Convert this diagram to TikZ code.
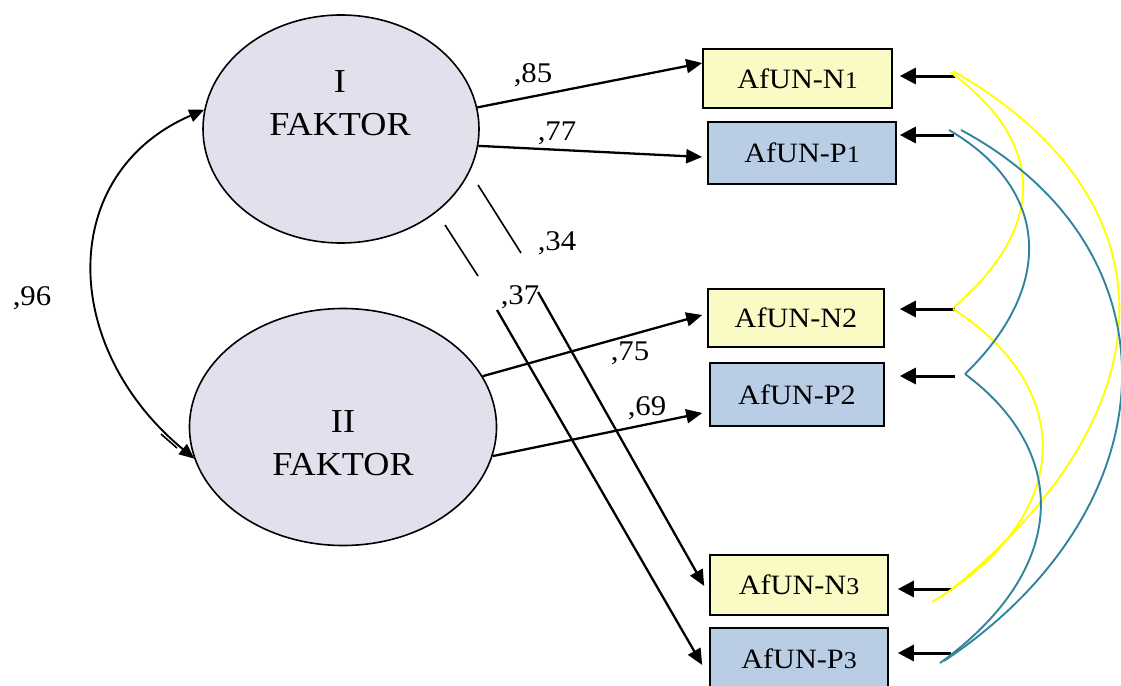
\documentclass[tikz,border=0pt]{standalone}
\usepackage{fontspec}
\setmainfont{Liberation Serif}[FakeStretch=1.08]
\usetikzlibrary{shapes.geometric,arrows.meta,calc}
\definecolor{ellfill}{HTML}{E4DFEC}
\definecolor{nfill}{HTML}{F9FAC4}
\definecolor{pfill}{HTML}{B9CDE5}
\definecolor{ycurve}{HTML}{FFFF00}
\definecolor{bcurve}{HTML}{31849B}
\newcommand{\boxfont}{\fontsize{28}{32}\selectfont}
\newcommand{\labfont}{\fontsize{28.5}{32}\selectfont}
\newcommand{\facfont}{\fontsize{33.5}{43}\selectfont}
\newcommand{\smd}[1]{{\fontsize{24}{27}\selectfont #1}}
\begin{document}
\begin{tikzpicture}[x=1pt,y=-1pt,
  ell/.style={ellipse,draw,line width=1.6pt,fill=ellfill,inner sep=0pt},
  nbox/.style={draw,line width=1.6pt,fill=nfill,inner sep=0pt,font=\boxfont},
  pbox/.style={draw,line width=1.6pt,fill=pfill,inner sep=0pt,font=\boxfont},
  facttext/.style={font=\facfont,align=center,inner sep=0pt},
  lab/.style={font=\labfont,inner sep=0pt},
  load/.style={line width=2.3pt,-{Triangle[length=16pt,width=14pt]}},
  thinseg/.style={line width=1.6pt},
  err/.style={line width=3pt,-{Triangle[length=16pt,width=16pt]}},
  cov/.style={line width=1.9pt,{Triangle[length=15pt,width=13pt]}-{Triangle[length=15pt,width=13pt]}},
  ycur/.style={draw=ycurve,line width=1.9pt},
  bcur/.style={draw=bcurve,line width=1.9pt}
]
\useasboundingbox (0,0) rectangle (1121,685);

% latent factors
\node[ell,minimum width=276pt,minimum height=228pt] (I) at (341,129) {};
\node[ell,minimum width=307pt,minimum height=237pt] (II) at (343,427) {};
\node[facttext] (Itext) at (340,103) {I\\FAKTOR};
\node[facttext] (IItext) at (343,443) {II\\FAKTOR};

% indicator boxes
\node[nbox,minimum width=189pt,minimum height=59pt] (N1) at (797.5,78.5) {AfUN-N\smd{1}};
\node[pbox,minimum width=188pt,minimum height=62pt] (P1) at (802,153) {AfUN-P\smd{1}};
\node[nbox,minimum width=176pt,minimum height=58pt] (N2) at (796,318) {AfUN-N2};
\node[pbox,minimum width=174pt,minimum height=63pt] (P2) at (797,394.5) {AfUN-P2};
\node[nbox,minimum width=178pt,minimum height=60pt] (N3) at (799,585) {AfUN-N\smd{3}};
\node[pbox,minimum width=178pt,minimum height=62pt] (P3) at (799,659) {AfUN-P\smd{3}};

% loadings
\draw[load] (I.9) -- ([yshift=15.5pt]N1.west);
\draw[load] (I.-7) -- ([xshift=-5pt,yshift=-4pt]P1.west);
\draw[load] (II.20) -- ([xshift=-5pt,yshift=3pt]N2.west);
\draw[load] (II.-11.5) -- ([xshift=-7pt,yshift=-18.5pt]P2.west);

% cross loadings with gaps
\coordinate (a34) at (478,185);
\coordinate (b34) at (521,253);
\coordinate (c34) at (538,292);
\coordinate (a37) at (445,225);
\coordinate (b37) at (478,276);
\coordinate (c37) at (497,310);
\draw[thinseg] (a34) -- (b34);
\draw[load] (c34) -- ([xshift=-5pt,yshift=-1pt]N3.west);
\draw[thinseg] (a37) -- (b37);
\draw[load] (c37) -- ([xshift=-7pt,yshift=-6pt]P3.west);

% labels
\node[lab] (l85) at (533,75) {,85};
\node[lab] (l77) at (557,133) {,77};
\node[lab] (l34) at (557,243) {,34};
\node[lab] (l37) at (520,297) {,37};
\node[lab] (l75) at (630,353) {,75};
\node[lab] (l69) at (647,408) {,69};
\node[lab] (l96) at (32,298) {,96};

% covariance
\draw[cov] (I.172) .. controls +(-146,63) and +(-136,-113) .. (II.192);
\coordinate (d1) at (161,434);
\coordinate (d2) at (177,448);
\draw[line width=1.6pt] (d1) -- (d2);

% error arrows
\coordinate (eN1) at (955,76);
\coordinate (eP1) at (954,135);
\coordinate (eN2) at (955,309);
\coordinate (eP2) at (955,376);
\coordinate (eN3) at (952,589);
\coordinate (eP3) at (951,653);
\draw[err,shorten >=7pt] (eN1) -- (eN1 -| N1.east);
\draw[err,shorten >=3pt] (eP1) -- (eP1 -| P1.east);
\draw[err,shorten >=15pt] (eN2) -- (eN2 -| N2.east);
\draw[err,shorten >=15pt] (eP2) -- (eP2 -| P2.east);
\draw[err,shorten >=9pt] (eN3) -- (eN3 -| N3.east);
\draw[err,shorten >=9pt] (eP3) -- (eP3 -| P3.east);

% error correlations (yellow)
\draw[ycur] ([xshift=-5pt,yshift=4pt]eN1) .. controls +(97,71) and +(94,-81) .. ([xshift=-2pt,yshift=1pt]eN2);
\draw[ycur] ([xshift=-2pt,yshift=5pt]eN1) .. controls +(222,127) and +(223,-181) .. (eN3);
\draw[ycur] ([xshift=-2pt]eN2) .. controls +(123,79) and +(144,-86) .. ([xshift=-20pt,yshift=-13pt]eN3);
% error correlations (blue)
\draw[bcur] ([xshift=-5pt,yshift=5pt]eP1) .. controls +(104,61) and +(88,-85) .. ([xshift=10pt,yshift=2pt]eP2);
\draw[bcur] ([xshift=10pt,yshift=2pt]eP2) .. controls +(105,78) and +(130,-94) .. ([xshift=-11pt,yshift=-10pt]eP3);
\draw[bcur] ([xshift=7pt,yshift=5pt]eP1) .. controls +(220,118) and +(232,-155) .. ([xshift=-7pt,yshift=-8pt]eP3);
\end{tikzpicture}
\end{document}
